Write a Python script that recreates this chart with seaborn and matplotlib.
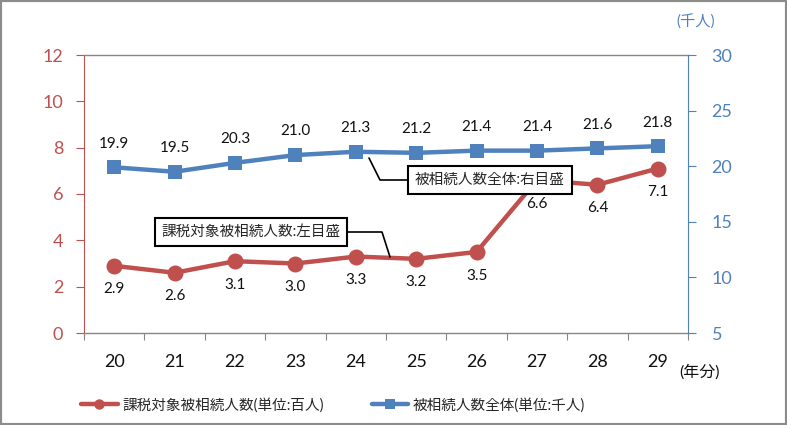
import matplotlib
matplotlib.use("Agg")
import matplotlib.pyplot as plt
from matplotlib.lines import Line2D
from matplotlib.patches import Rectangle
import seaborn as sns
import pandas as pd

years = ["20", "21", "22", "23", "24", "25", "26", "27", "28", "29"]
taxable = [2.9, 2.6, 3.1, 3.0, 3.3, 3.2, 3.5, 6.6, 6.4, 7.1]          # 百人 (left axis)
total = [19.9, 19.5, 20.3, 21.0, 21.3, 21.2, 21.4, 21.4, 21.6, 21.8]  # 千人 (right axis)
label_taxable = "課税対象被相続人数(単位:百人)"
label_total = "被相続人数全体(単位:千人)"
note_taxable = "課税対象被相続人数:左目盛"
note_total = "被相続人数全体:右目盛"

RED = "#C0504D"
BLUE = "#4F81BD"
GREY = "#868686"

sns.set_style("white")
plt.rcParams["font.family"] = ["Lato", "Noto Sans CJK JP", "DejaVu Sans"]

W, H = 787, 425
fig = plt.figure(figsize=(W / 100, H / 100), dpi=100)
ax = fig.add_axes([84 / W, 1 - 333 / H, (688 - 84) / W, (333 - 55) / H])
ax2 = ax.twinx()

df = pd.DataFrame({"pos": range(len(years)), "taxable": taxable, "total": total})

sns.lineplot(data=df, x="pos", y="taxable", ax=ax, color=RED, linewidth=3.2,
             marker="o", markersize=11.5, markeredgewidth=0, label=label_taxable)
sns.lineplot(data=df, x="pos", y="total", ax=ax2, color=BLUE, linewidth=3.2,
             marker="s", markersize=10.5, markeredgewidth=0, label=label_total)

for a in (ax, ax2):
    if a.get_legend() is not None:
        a.get_legend().remove()

# axes ranges
ax.set_xlim(-0.5, len(years) - 0.5)
ax.set_ylim(0, 12)
ax2.set_ylim(5, 30)
ax.set_yticks(range(0, 13, 2))
ax2.set_yticks(range(5, 31, 5))
ax.set_xlabel("")
ax.set_ylabel("")
ax2.set_ylabel("")

# x ticks: marks at category boundaries, labels at centres
ax.set_xticks([i - 0.5 for i in range(len(years) + 1)])
ax.set_xticklabels([])
ax.set_xticks(range(len(years)), minor=True)
ax.set_xticklabels(years, minor=True)
ax.tick_params(axis="x", which="major", length=5, color=GREY, direction="out", bottom=True)
ax.tick_params(axis="x", which="minor", length=0, pad=15, labelsize=13, labelcolor="#111111")

ax.tick_params(axis="y", length=6, color=RED, labelcolor=RED, labelsize=13, pad=9, direction="out", left=True)
ax2.tick_params(axis="y", length=6, color=BLUE, labelcolor=BLUE, labelsize=13, pad=11, direction="out", right=True)

for s in ("top", "bottom"):
    ax.spines[s].set_color(GREY)
    ax.spines[s].set_linewidth(1.0)
    ax2.spines[s].set_visible(False)
ax.spines["left"].set_color(RED)
ax.spines["right"].set_visible(False)
ax2.spines["left"].set_visible(False)
ax2.spines["right"].set_color(BLUE)
ax.grid(False)
ax2.grid(False)

# data labels
for i, v in enumerate(taxable):
    ax.annotate(f"{v:.1f}", (i, v), xytext=(0, -17), textcoords="offset points",
                ha="center", va="center", fontsize=11, color="#111111", zorder=5)
for i, v in enumerate(total):
    ax2.annotate(f"{v:.1f}", (i, v), xytext=(0, 17), textcoords="offset points",
                 ha="center", va="center", fontsize=11, color="#111111", zorder=5)

# unit texts
fig.text(696 / W, 1 - 22 / H, "(千人)", color=BLUE, fontsize=11, ha="center", va="center")
fig.text(699 / W, 1 - 372 / H, "(年分)", color="#111111", fontsize=11.5, ha="center", va="center")

# callout boxes
def fp(x, y):
    return (x / W, 1 - y / H)

for pts in ([(344, 232), (382, 232), (390, 257)], [(415, 180), (380, 180), (369, 158)]):
    xs = [fp(*p)[0] for p in pts]
    ys = [fp(*p)[1] for p in pts]
    fig.add_artist(Line2D(xs, ys, color="black", linewidth=1.2, transform=fig.transFigure, zorder=4))

box = dict(boxstyle="square,pad=0.45", facecolor="white", edgecolor="black", linewidth=1.5)
fig.text(*fp(251, 232), note_taxable, fontsize=10.5, ha="center", va="center", bbox=box, zorder=6)
fig.text(*fp(490, 180), note_total, fontsize=10.5, ha="center", va="center", bbox=box, zorder=6)

# legend
leg_handles = [
    Line2D([], [], color=RED, linewidth=3.2, marker="o", markersize=7.5, markeredgewidth=0),
    Line2D([], [], color=BLUE, linewidth=3.2, marker="s", markersize=7, markeredgewidth=0),
]
fig.legend(leg_handles, [label_taxable, label_total], loc="center",
           bbox_to_anchor=(333 / W, 1 - 405 / H), ncol=2,
           frameon=False, fontsize=10.5, columnspacing=3.3, handlelength=2.5, handletextpad=0.3)

# outer border
fig.add_artist(Rectangle((0, 0), 1, 1, transform=fig.transFigure, fill=False,
                         edgecolor="#8C8C8C", linewidth=3, zorder=10))

fig.savefig("out.png", dpi=100)
